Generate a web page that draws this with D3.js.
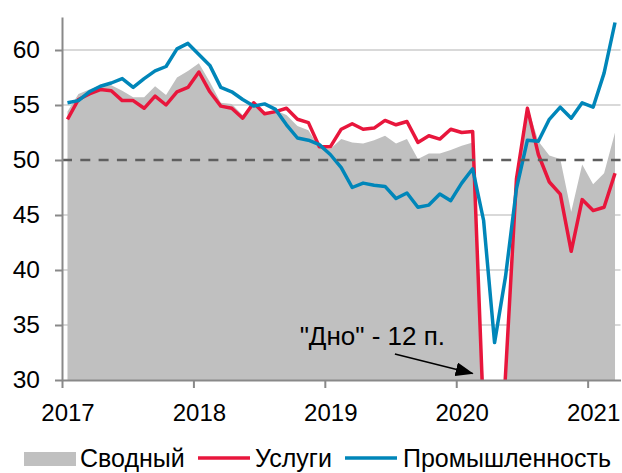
<!DOCTYPE html>
<html>
<head>
<meta charset="utf-8">
<script src="https://cdn.jsdelivr.net/npm/d3@7"></script>
<style>
  body { margin: 0; background: #fff; }
  svg text { font-family: "Liberation Sans", Arial, sans-serif; fill: #000; }
  .axis path, .axis line { stroke: #898989; stroke-width: 2; }
</style>
</head>
<body>
<svg id="chart" width="622" height="473"></svg>
<script>
// monthly PMI, Jan 2017 .. Mar 2021
var years = ["2017", "2018", "2019", "2020", "2021"]
var yTicks = [30, 35, 40, 45, 50, 55, 60]

var composite = [
  54.4, 56.0, 56.4, 56.8, 56.8, 56.3, 55.7, 55.7, 56.7, 55.9, 57.5, 58.1,
  58.8, 57.1, 55.2, 55.1, 54.1, 54.9, 54.3, 54.5, 54.1, 53.1, 52.7, 51.1,
  51.0, 51.9, 51.6, 51.5, 51.8, 52.2, 51.5, 51.9, 50.1, 50.6, 50.6, 50.9,
  51.3, 51.6, 29.7, 13.6, 31.9, 48.5, 54.9, 51.7, 50.4, 50.1, 45.3, 49.6,
  47.8, 48.8, 52.5
]
var services = [
  53.7, 55.5, 56.0, 56.4, 56.3, 55.4, 55.4, 54.7, 55.8, 55.0, 56.2, 56.6,
  58.0, 56.2, 54.9, 54.7, 53.8, 55.2, 54.2, 54.4, 54.7, 53.7, 53.4, 51.2,
  51.2, 52.8, 53.3, 52.8, 52.9, 53.6, 53.2, 53.5, 51.6, 52.2, 51.9, 52.8,
  52.5, 52.6, 26.4, 12.0, 30.5, 48.3, 54.7, 50.5, 48.0, 46.9, 41.7, 46.4,
  45.4, 45.7, 48.8
]
var manufacturing = [
  55.2, 55.4, 56.2, 56.7, 57.0, 57.4, 56.6, 57.4, 58.1, 58.5, 60.1, 60.6,
  59.6, 58.6, 56.6, 56.2, 55.5, 54.9, 55.1, 54.6, 53.2, 52.0, 51.8, 51.4,
  50.5, 49.3, 47.5, 47.9, 47.7, 47.6, 46.5, 47.0, 45.7, 45.9, 46.9, 46.3,
  47.9, 49.2, 44.5, 33.4, 39.4, 47.4, 51.8, 51.7, 53.7, 54.8, 53.8, 55.2,
  54.8, 57.9, 62.5
]
var seriesNames = ["Сводный", "Услуги", "Промышленность"]
var colors = { grey: "#c0c0c0", red: "#e8163c", blue: "#0086b9" }

var svg = d3.select("#chart")
var n = composite.length

var x = d3.scaleLinear().domain([0, n]).range([62, 620.5])
var y = d3.scaleLinear().domain([30, 63]).range([380, 17])
var cx = i => x(i + 0.5)

svg.append("defs").append("clipPath").attr("id", "plot")
  .append("rect")
  .attr("x", x(0)).attr("y", y(63) - 5)
  .attr("width", x(n) - x(0) + 2).attr("height", y(30) - y(63) + 5)

// gridlines (behind the area)
svg.append("g").selectAll("line")
  .data(yTicks.filter(d => d != 30 && d != 50))
  .enter().append("line")
  .attr("x1", x(0)).attr("x2", x(n))
  .attr("y1", d => y(d)).attr("y2", d => y(d))
  .attr("stroke", "#d9d9d9").attr("stroke-width", 2)

var plot = svg.append("g").attr("clip-path", "url(#plot)")

var area = d3.area()
  .x((d, i) => cx(i))
  .y0(y(30))
  .y1(d => y(d))

plot.append("path")
  .datum(composite)
  .attr("fill", colors.grey)
  .attr("d", area)

// 50 line
svg.append("line")
  .attr("x1", x(0)).attr("x2", x(n))
  .attr("y1", y(50)).attr("y2", y(50))
  .attr("stroke", "#5f5f5f").attr("stroke-width", 2.6)
  .attr("stroke-dasharray", "10,8.3")

var line = d3.line()
  .x((d, i) => cx(i))
  .y(d => y(d))

plot.append("path")
  .datum(services)
  .attr("fill", "none")
  .attr("stroke", colors.red)
  .attr("stroke-width", 3.5)
  .attr("stroke-linejoin", "round")
  .attr("d", line)

plot.append("path")
  .datum(manufacturing)
  .attr("fill", "none")
  .attr("stroke", colors.blue)
  .attr("stroke-width", 3.5)
  .attr("stroke-linejoin", "round")
  .attr("d", line)

// axes
var yAxis = svg.append("g")
  .attr("class", "axis")
  .attr("transform", "translate(" + x(0) + ",0)")
  .call(d3.axisLeft(y).tickValues(yTicks).tickSize(7).tickSizeOuter(0).tickPadding(15))
yAxis.selectAll("text").attr("font-size", 24.5).style("font-family", "Liberation Sans, Arial")

var xAxis = svg.append("g")
  .attr("class", "axis")
  .attr("transform", "translate(0," + y(30) + ")")
  .call(d3.axisBottom(x)
    .tickValues(years.map((d, i) => i * 12))
    .tickFormat((d, i) => years[i])
    .tickSize(8).tickSizeOuter(0))
xAxis.selectAll("text")
  .attr("font-size", 24)
  .attr("x", (x(1) - x(0)) / 2)
  .attr("y", 24)
  .style("font-family", "Liberation Sans, Arial")

// annotation
svg.select("defs").append("marker")
  .attr("id", "arrow")
  .attr("markerUnits", "userSpaceOnUse")
  .attr("viewBox", "0 0 18 14")
  .attr("refX", 17).attr("refY", 7)
  .attr("markerWidth", 18).attr("markerHeight", 14)
  .attr("orient", "auto")
  .append("path")
  .attr("d", "M0,0 L18,7 L0,14 Z")
  .attr("fill", "#000")

svg.append("line")
  .attr("x1", cx(29.9)).attr("y1", y(32.36))
  .attr("x2", cx(37)).attr("y2", y(30.6))
  .attr("stroke", "#000").attr("stroke-width", 1.5)
  .attr("marker-end", "url(#arrow)")

svg.append("text")
  .attr("x", cx(21.2)).attr("y", y(33.2))
  .attr("font-size", 26)
  .text('"Дно" - 12 п.')

// legend
var legend = svg.append("g").attr("font-size", 25)
legend.append("rect")
  .attr("x", 24).attr("y", 452).attr("width", 52).attr("height", 14)
  .attr("fill", colors.grey)
legend.append("text").attr("x", 80).attr("y", 467).text(seriesNames[0])
legend.append("line")
  .attr("x1", 198).attr("x2", 250).attr("y1", 458).attr("y2", 458)
  .attr("stroke", colors.red).attr("stroke-width", 3.5)
legend.append("text").attr("x", 255).attr("y", 467).text(seriesNames[1])
legend.append("line")
  .attr("x1", 345).attr("x2", 397).attr("y1", 458).attr("y2", 458)
  .attr("stroke", colors.blue).attr("stroke-width", 3.5)
legend.append("text").attr("x", 403).attr("y", 467).text(seriesNames[2])
</script>
</body>
</html>
